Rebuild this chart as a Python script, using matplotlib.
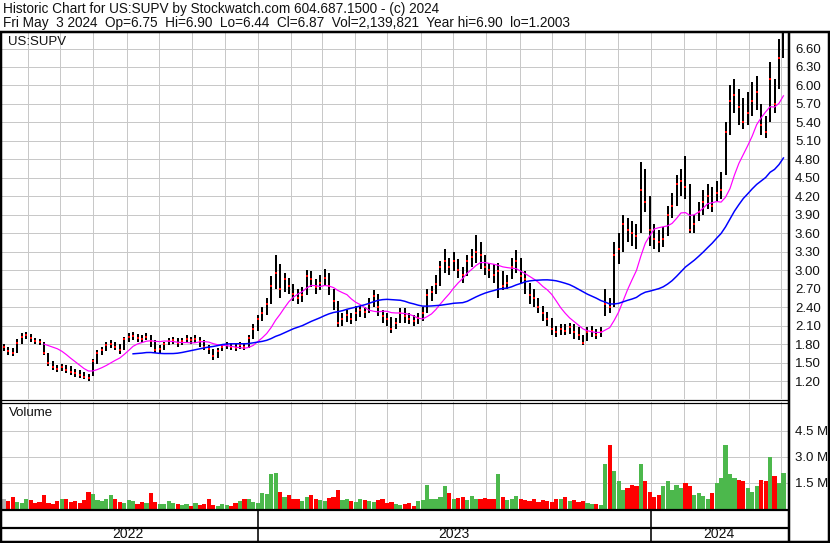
import matplotlib
matplotlib.use('Agg')
import matplotlib.pyplot as plt
import matplotlib.dates as mdates
from matplotlib.lines import Line2D
import numpy as np
import pandas as pd

plt.rcParams['font.family'] = ['Liberation Sans', 'DejaVu Sans']

# ---------------- data (~3 trading days per bar) ----------------
close = [
    1.75, 1.68, 1.65, 1.82, 1.92, 1.95, 1.90, 1.85, 1.83, 1.65,
    1.50, 1.42, 1.40, 1.42, 1.38, 1.35, 1.33, 1.30, 1.27, 1.25,
    1.52, 1.65, 1.70, 1.78, 1.80, 1.76, 1.70, 1.88, 1.92, 1.93,
    1.90, 1.88, 1.92, 1.85, 1.70, 1.72, 1.80, 1.85, 1.86, 1.82,
    1.85, 1.88, 1.86, 1.88, 1.85, 1.75, 1.72, 1.60, 1.68, 1.75,
    1.78, 1.76, 1.74, 1.78, 1.76, 1.90, 2.05, 2.20, 2.30, 2.45,
    2.75, 2.95, 2.70, 2.85, 2.75, 2.62, 2.55, 2.60, 2.90, 2.85,
    2.72, 2.80, 2.88, 2.75, 2.50, 2.15, 2.20, 2.28, 2.20, 2.30,
    2.35, 2.32, 2.45, 2.58, 2.40, 2.25, 2.20, 2.05, 2.15, 2.30,
    2.25, 2.20, 2.18, 2.22, 2.30, 2.60, 2.65, 2.78, 3.05, 3.15,
    3.05, 3.15, 3.00, 2.92, 3.15, 3.22, 3.30, 3.25, 3.05, 3.00,
    2.92, 2.98, 2.75, 2.80, 3.05, 3.15, 2.90, 2.85, 2.60, 2.55,
    2.40, 2.30, 2.20, 2.05, 2.00, 2.05, 2.02, 2.08, 2.00, 1.95,
    1.82, 2.00, 2.02, 1.95, 2.00, 2.45, 2.40, 3.25, 3.35, 3.75,
    3.65, 3.60, 3.55, 4.30, 4.10, 3.65, 3.50, 3.45, 3.50, 3.90,
    4.05, 4.40, 4.45, 4.35, 3.65, 3.75, 3.95, 4.10, 4.20, 4.05,
    4.25, 4.30, 5.25, 5.75, 5.85, 5.65, 5.40, 5.55, 5.75, 5.90,
    5.35, 5.25, 6.10, 5.70, 6.45, 6.87,
]
high = [
    1.80, 1.76, 1.74, 1.88, 1.98, 2.00, 1.96, 1.90, 1.88, 1.84,
    1.66, 1.52, 1.46, 1.48, 1.46, 1.44, 1.40, 1.38, 1.34, 1.32,
    1.56, 1.70, 1.76, 1.84, 1.86, 1.84, 1.80, 1.92, 1.98, 2.00,
    1.96, 1.94, 1.98, 1.94, 1.86, 1.78, 1.84, 1.90, 1.92, 1.90,
    1.90, 1.94, 1.92, 1.94, 1.92, 1.86, 1.78, 1.72, 1.74, 1.80,
    1.84, 1.82, 1.80, 1.84, 1.82, 1.95, 2.12, 2.28, 2.40, 2.55,
    2.90, 3.25, 3.10, 2.95, 2.88, 2.78, 2.70, 2.72, 3.00, 2.98,
    2.85, 2.92, 3.02, 2.95, 2.70, 2.50, 2.30, 2.36, 2.30, 2.42,
    2.42, 2.40, 2.55, 2.68, 2.62, 2.36, 2.30, 2.24, 2.22, 2.38,
    2.38, 2.30, 2.28, 2.30, 2.40, 2.70, 2.75, 2.92, 3.15, 3.35,
    3.20, 3.30, 3.18, 3.05, 3.25, 3.35, 3.57, 3.45, 3.25, 3.12,
    3.10, 3.12, 2.98, 2.92, 3.20, 3.32, 3.20, 2.98, 2.80, 2.70,
    2.55, 2.42, 2.32, 2.22, 2.10, 2.12, 2.12, 2.15, 2.12, 2.08,
    1.95, 2.08, 2.10, 2.05, 2.08, 2.70, 2.55, 3.45, 3.60, 3.90,
    3.85, 3.80, 3.75, 4.75, 4.65, 4.20, 3.75, 3.65, 3.70, 4.05,
    4.25, 4.55, 4.65, 4.85, 4.40, 3.90, 4.10, 4.30, 4.40, 4.35,
    4.45, 4.60, 5.40, 6.00, 6.10, 5.95, 5.80, 5.90, 6.05, 6.15,
    5.70, 5.50, 6.38, 6.10, 6.75, 6.90,
]
low = [
    1.68, 1.62, 1.60, 1.66, 1.80, 1.88, 1.84, 1.80, 1.78, 1.62,
    1.45, 1.38, 1.35, 1.36, 1.33, 1.30, 1.27, 1.25, 1.23, 1.20,
    1.28, 1.48, 1.62, 1.68, 1.74, 1.70, 1.64, 1.70, 1.84, 1.86,
    1.84, 1.82, 1.86, 1.76, 1.66, 1.66, 1.70, 1.78, 1.80, 1.76,
    1.78, 1.82, 1.80, 1.82, 1.76, 1.70, 1.64, 1.54, 1.58, 1.68,
    1.72, 1.70, 1.68, 1.72, 1.70, 1.74, 1.88, 2.02, 2.18, 2.28,
    2.45, 2.70, 2.55, 2.65, 2.62, 2.50, 2.45, 2.48, 2.60, 2.72,
    2.62, 2.68, 2.75, 2.60, 2.35, 2.08, 2.10, 2.16, 2.12, 2.18,
    2.24, 2.22, 2.30, 2.40, 2.25, 2.15, 2.10, 1.98, 2.05, 2.15,
    2.15, 2.12, 2.10, 2.12, 2.18, 2.30, 2.50, 2.62, 2.75, 2.95,
    2.92, 2.98, 2.88, 2.80, 2.90, 3.05, 3.12, 3.02, 2.92, 2.88,
    2.80, 2.55, 2.68, 2.70, 2.85, 2.95, 2.80, 2.62, 2.45, 2.40,
    2.30, 2.18, 2.10, 1.95, 1.92, 1.95, 1.94, 1.96, 1.88, 1.86,
    1.78, 1.85, 1.92, 1.88, 1.92, 2.25, 2.30, 2.40, 3.10, 3.30,
    3.45, 3.40, 3.35, 3.60, 3.95, 3.40, 3.35, 3.30, 3.38, 3.55,
    3.85, 4.05, 4.20, 4.15, 3.60, 3.60, 3.80, 3.90, 4.00, 3.95,
    4.10, 4.15, 4.55, 5.20, 5.55, 5.35, 5.30, 5.35, 5.50, 5.60,
    5.20, 5.15, 5.40, 5.55, 5.95, 6.44,
]
volume_m = [
    0.55, 0.45, 0.70, 0.40, 0.35, 0.60, 0.50, 0.35, 0.40, 0.80,
    0.35, 0.30, 0.45, 0.55, 0.60, 0.40, 0.45, 0.35, 0.50, 1.00,
    0.85, 0.50, 0.45, 0.60, 0.80, 0.55, 0.40, 0.35, 0.50, 0.45,
    0.30, 0.40, 0.35, 0.90, 0.40, 0.30, 0.30, 0.45, 0.35, 0.30,
    0.25, 0.30, 0.20, 0.35, 0.25, 0.30, 0.60, 0.25, 0.20, 0.30,
    0.25, 0.20, 0.35, 0.45, 0.55, 0.60, 0.40, 0.35, 0.90, 0.85,
    2.00, 2.10, 1.00, 0.70, 0.80, 0.55, 0.60, 0.45, 0.70, 0.80,
    0.60, 0.50, 0.45, 0.65, 0.70, 1.10, 0.50, 0.55, 0.45, 0.40,
    0.55, 0.50, 0.45, 0.40, 0.50, 0.55, 0.35, 0.40, 0.30, 0.25,
    0.30, 0.35, 0.20, 0.45, 0.50, 1.40, 0.60, 0.55, 0.70, 1.35,
    0.90, 0.55, 0.65, 0.70, 0.50, 0.75, 0.60, 0.55, 0.65, 0.60,
    0.55, 2.00, 0.70, 0.50, 0.55, 0.75, 0.60, 0.50, 0.45, 0.55,
    0.40, 0.50, 0.45, 0.40, 0.55, 0.60, 0.70, 0.45, 0.50, 0.40,
    0.45, 0.35, 0.30, 0.30, 0.25, 2.60, 3.70, 2.20, 1.60, 1.10,
    1.20, 1.40, 1.30, 2.60, 1.60, 1.00, 0.70, 0.80, 1.30, 1.60,
    1.10, 1.40, 1.20, 1.50, 1.30, 0.80, 0.90, 0.75, 0.60, 0.90,
    1.50, 1.80, 3.70, 2.00, 1.80, 1.70, 1.60, 1.20, 1.00, 1.30,
    1.70, 1.60, 3.00, 1.90, 1.50, 2.10,
]
price_ticks = [1.20, 1.50, 1.80, 2.10, 2.40, 2.70, 3.00, 3.30, 3.60, 3.90,
               4.20, 4.50, 4.80, 5.10, 5.40, 5.70, 6.00, 6.30, 6.60]
vol_ticks_m = [1.5, 3.0, 4.5]
vol_tick_labels = ['1.5 M', '3.0 M', '4.5 M']
years = ['2022', '2023', '2024']
title1 = "Historic Chart for US:SUPV by Stockwatch.com 604.687.1500 - (c) 2024"
title2 = ("Fri May  3 2024  Op=6.75  Hi=6.90  Lo=6.44  Cl=6.87  "
          "Vol=2,139,821  Year hi=6.90  lo=1.2003")
symbol = "US:SUPV"

# ---------------- layout ----------------
W, H = 830, 543
fig = plt.figure(figsize=(W / 100, H / 100), dpi=100)
fig.patch.set_facecolor('white')


def fx(px):
    return px / W


def fy(py):
    return 1 - py / H


PX = 0.72  # points per pixel

ax = fig.add_axes([fx(2), fy(399), (788 - 2) / W, (399 - 33) / H])
axv = fig.add_axes([fx(2), fy(509), (788 - 2) / W, (509 - 402) / H])

dates = pd.date_range('2022-05-10', '2024-05-03', periods=len(close))
xd = mdates.date2num(dates)

ppd = 393 / 365.0
x_2023 = mdates.date2num(pd.Timestamp('2023-01-01'))
x_2024 = mdates.date2num(pd.Timestamp('2024-01-01'))
xlo = x_2023 - 256 / ppd
xhi = x_2024 + (788 - 651) / ppd

months = mdates.date2num(pd.date_range('2022-06-01', '2024-05-01', freq='MS'))

grid_kw = dict(color='#c8c8c8', lw=1.0 * PX)

for a in (ax, axv):
    a.set_xlim(xlo, xhi)
    a.set_xticks(months)
    a.tick_params(axis='x', length=0, labelbottom=False)
    a.grid(True, **grid_kw)
    a.set_axisbelow(True)
    for s in a.spines.values():
        s.set_visible(False)
    a.yaxis.tick_right()
    a.tick_params(axis='y', length=0, pad=5, labelsize=9.5, labelcolor='#111111')

# price panel
ax.set_ylim(0.908, 6.852)
ax.set_yticks(price_ticks)
ax.set_yticklabels([f'{t:.2f}' for t in price_ticks])

ax.vlines(xd, low, high, color='black', lw=2.0 * PX, zorder=3)
ax.plot(xd, close, 's', color='#ff0000', ms=2.0, mew=0, zorder=4)

cs = pd.Series(close)
ma_short = cs.rolling(10).mean()
ma_long = cs.rolling(30).mean()
ax.plot(xd, ma_short, color='#ff00ff', lw=1.0 * PX * 1.2, zorder=5)
ax.plot(xd, ma_long, color='#0000ff', lw=1.0 * PX * 1.5, zorder=5)

ax.text(fx(8), fy(42), symbol, transform=fig.transFigure, fontsize=9.5,
        va='center', ha='left', color='#111111')

# volume panel
vol = np.array(volume_m) * 1e6
colors = []
for i, c in enumerate(close):
    if i == 0:
        colors.append('#b4b4b4')
    elif c > close[i - 1]:
        colors.append('#4cb84c')
    elif c < close[i - 1]:
        colors.append('#ff0000')
    else:
        colors.append('#b4b4b4')
axv.bar(xd, vol, width=3.9, color=colors, linewidth=0, zorder=3)
axv.set_ylim(0, 6.17e6)
axv.set_yticks([v * 1e6 for v in vol_ticks_m])
axv.set_yticklabels(vol_tick_labels)
axv.text(fx(9), fy(413), 'Volume', transform=fig.transFigure, fontsize=9.5,
         va='center', ha='left', color='#111111')

# ---------------- frame lines ----------------


def fline(x0, y0, x1, y1, lwpx, color='black'):
    fig.add_artist(Line2D([fx(x0), fx(x1)], [fy(y0), fy(y1)],
                          transform=fig.transFigure, color=color,
                          lw=lwpx * PX, solid_capstyle='butt'))


fline(0, 32, 830, 32, 2.5)
fline(1, 31, 1, 543, 2.5)
fline(788.5, 31, 788.5, 542, 2.5)
fline(828.5, 31, 828.5, 543, 2.5)
fline(0, 400, 788, 400, 1.2)
fline(0, 402.5, 788, 402.5, 1.2)
fline(0, 509.5, 788, 509.5, 2.2)
fline(0, 527.5, 788, 527.5, 2.2)
fline(0, 541.8, 830, 541.8, 2.5)

# year separators in bottom strip
for px_x in (258, 651):
    fline(px_x, 509, px_x, 542, 1.6)

fig.text(fx(128), fy(534.5), years[0], ha='center', va='center', fontsize=10, color='#111111')
fig.text(fx(454), fy(534.5), years[1], ha='center', va='center', fontsize=10, color='#111111')
fig.text(fx(719), fy(534.5), years[2], ha='center', va='center', fontsize=10, color='#111111')

# titles
fig.text(fx(3), fy(8.5), title1, ha='left', va='center', fontsize=9.8, color='#111111')
fig.text(fx(3), fy(22.5), title2, ha='left', va='center', fontsize=9.8, color='#111111')

fig.savefig('out.png', dpi=100, facecolor='white')
